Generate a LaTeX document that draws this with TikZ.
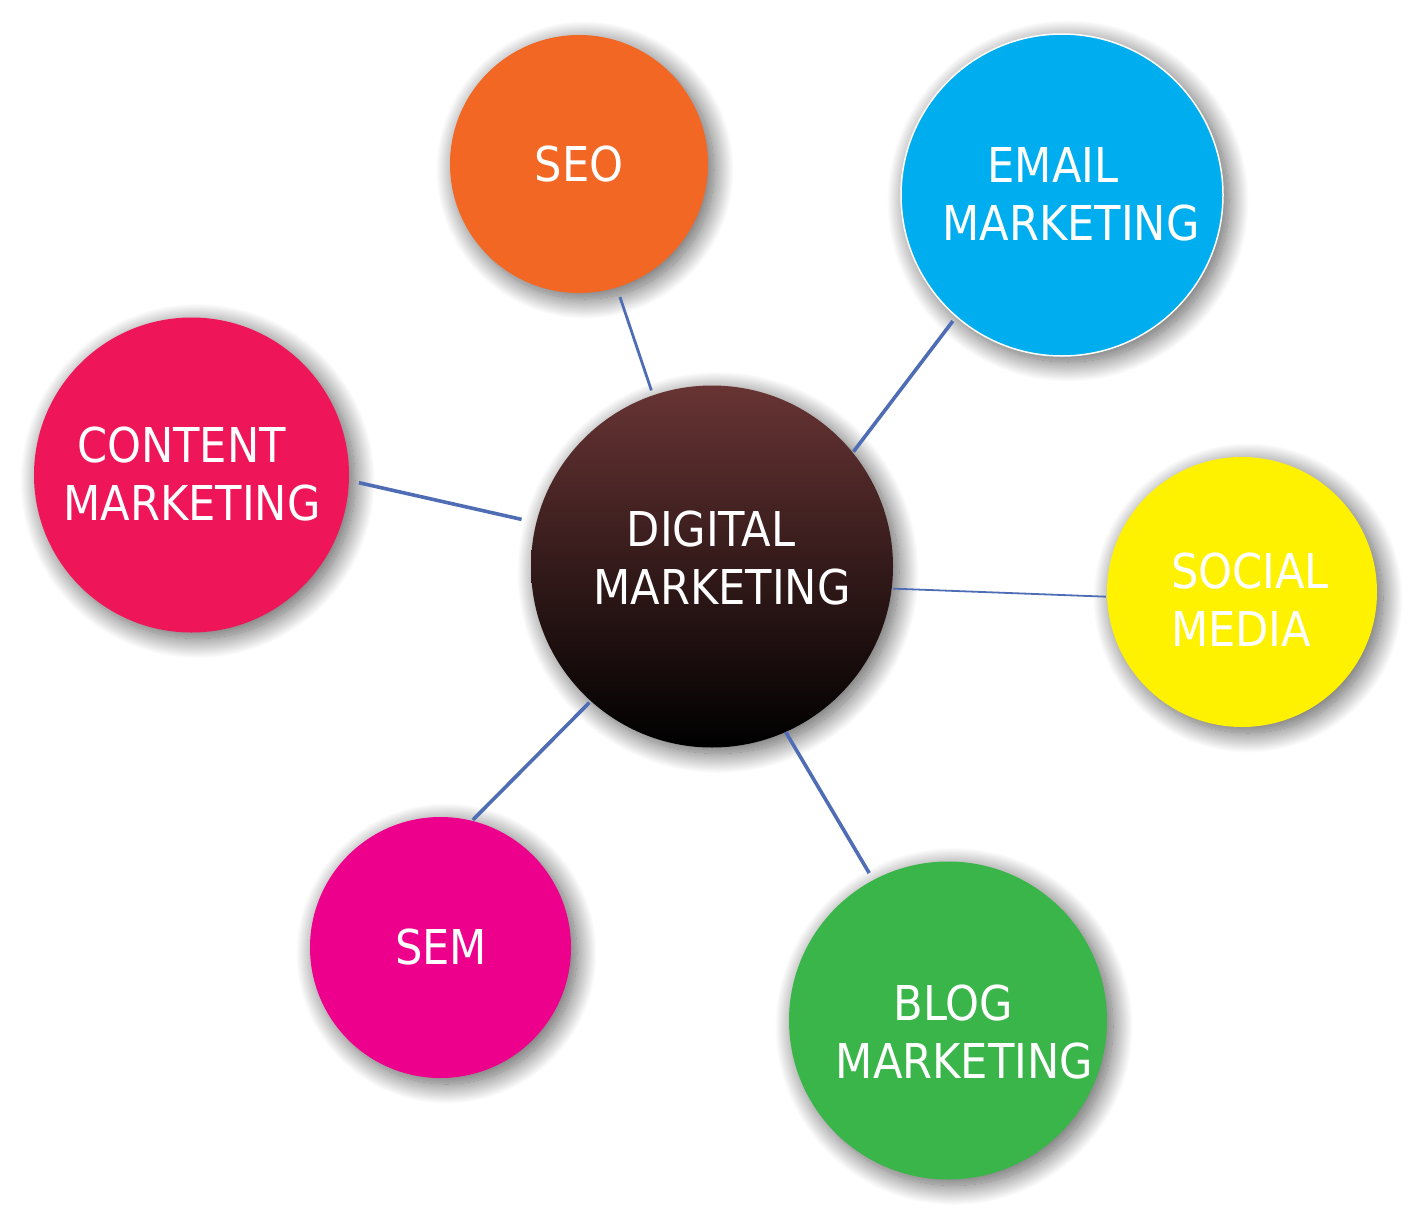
\documentclass[tikz,border=0pt]{standalone}
\usepackage{fontspec}
\setmainfont{DejaVu Sans Condensed}
\usetikzlibrary{shadows.blur}
\definecolor{seoorange}{HTML}{F26724}
\definecolor{emailblue}{HTML}{00AEEF}
\definecolor{contentred}{HTML}{EE1559}
\definecolor{socialyellow}{HTML}{FFF200}
\definecolor{semmagenta}{HTML}{EC008C}
\definecolor{bloggreen}{HTML}{3AB54A}
\definecolor{digitop}{HTML}{683434}
\definecolor{linkblue}{HTML}{4F6DB5}
\tikzset{
    bubble/.style = {
        shape=circle,
        inner sep=0pt,
        blur shadow={shadow xshift=6pt, shadow yshift=-6pt,
            shadow blur radius=20pt, shadow blur steps=30,
            shadow opacity=65}
    },
    caption/.style = {
        text=white,
        align=center,
        inner sep=0pt,
        font=\fontsize{48}{58}\selectfont
    },
    link/.style = {
        draw=linkblue,
        line width=3.6pt
    },
}

\begin{document}
\begin{tikzpicture}[x=1pt, y=-1pt]
            \useasboundingbox (0,0) rectangle (1414,1218);

            \node[bubble, fill=seoorange, minimum size=258pt] (seo) at (579,164) {};
            \node[bubble, fill=emailblue, draw=white, line width=1.5pt, minimum size=322pt] (email) at (1062,195) {};
            \node[bubble, fill=contentred, minimum size=315pt] (content) at (191.5,475) {};
            \node[bubble, fill=socialyellow, minimum size=270pt] (social) at (1242,592) {};
            \node[bubble, fill=semmagenta, minimum size=261pt] (sem) at (440.5,947.5) {};
            \node[bubble, fill=bloggreen, minimum size=318pt] (blog) at (948,1020.5) {};
            \node[bubble, top color=digitop, bottom color=black, minimum size=362pt] (digital) at (712,566.5) {};

            \node[caption] (seotext) at (579,164) {SEO};
            \node[caption] (emailtext) at (1071,194.5) {EMAIL\hspace*{36pt}\\MARKETING};
            \node[caption] (contenttext) at (192,474.5) {CONTENT\hspace*{21pt}\\MARKETING};
            \node[caption, align=left] (socialtext) at (1250,599.5) {SOCIAL\\MEDIA};
            \node[caption] (semtext) at (441,947) {SEM};
            \node[caption] (blogtext) at (964.5,1032) {BLOG\hspace*{22pt}\\MARKETING};
            \node[caption] (digitaltext) at (722,558) {DIGITAL\hspace*{22pt}\\MARKETING};

            \path[link, line width=2.8pt, shorten <=10pt, shorten >=5pt] (seo.-73) -- (digital.109);
            \path[link, shorten <=5pt, shorten >=1pt] (email.229) -- (digital.39);
            \path[link, shorten <=10pt, shorten >=15pt] (content.-2) -- (digital.166);
            \path[link, line width=1.8pt, shorten <=1pt, shorten >=1pt] (digital.-7) -- (social.182);
            \path[link, shorten <=2pt, shorten >=1pt] (digital.228) -- (sem.76);
            \path[link, shorten >=8pt] (digital.-66) -- (blog.118);
        \end{tikzpicture}
\end{document}
